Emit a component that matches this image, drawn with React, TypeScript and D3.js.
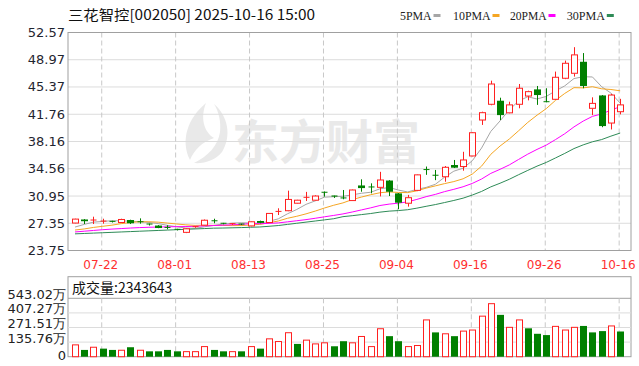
import React from 'react';
import * as d3 from 'd3';

const dates = ['07-17','07-18','07-21','07-22','07-23','07-24','07-25','07-28','07-29','07-30','07-31','08-01','08-04','08-05','08-06','08-07','08-08','08-11','08-12','08-13','08-14','08-15','08-18','08-19','08-20','08-21','08-22','08-25','08-26','08-27','08-28','08-29','09-01','09-02','09-03','09-04','09-05','09-08','09-09','09-10','09-11','09-12','09-15','09-16','09-17','09-18','09-19','09-22','09-23','09-24','09-25','09-26','09-29','09-30','10-09','10-10','10-13','10-14','10-15','10-16'];
const opens = [27.38,27.85,27.72,27.60,27.60,27.45,27.78,27.55,27.25,27.05,26.80,26.55,26.15,26.85,27.10,27.68,27.35,27.22,27.25,27.00,27.65,27.45,28.85,29.01,30.00,30.70,30.40,31.45,30.95,30.70,30.35,32.35,32.15,32.10,33.00,31.30,30.00,31.70,34.45,33.70,33.50,35.05,34.85,36.25,41.00,43.08,43.55,41.95,43.08,44.17,45.05,43.42,43.74,46.52,47.18,48.70,42.55,44.25,40.60,42.10];
const highs = [27.95,27.90,28.22,27.95,27.68,27.95,27.82,28.00,27.30,27.10,27.10,26.62,26.70,26.95,27.85,27.95,27.40,27.35,27.30,27.60,27.70,28.70,29.33,31.66,30.45,31.50,31.05,31.55,31.00,31.75,31.80,33.16,32.63,34.15,33.05,31.35,31.10,33.80,34.85,34.40,34.92,35.72,36.80,39.40,42.10,46.20,43.95,43.42,45.76,44.88,45.50,45.20,47.40,48.85,50.63,49.85,44.00,44.30,44.45,43.80];
const lows = [27.35,27.25,27.25,27.30,27.45,27.40,27.25,27.30,27.05,26.70,26.55,26.40,26.05,26.75,27.05,27.35,27.22,27.15,27.10,26.95,27.35,27.40,28.44,28.95,29.95,30.30,30.35,30.87,30.70,30.52,30.30,31.52,31.31,30.90,30.95,29.20,29.55,31.60,33.75,33.05,32.84,34.65,34.30,36.20,40.35,42.95,41.00,41.89,42.55,43.60,43.00,43.35,43.65,46.40,46.74,45.20,41.65,40.05,39.75,41.75];
const closes = [27.90,27.62,27.78,27.64,27.48,27.85,27.35,27.50,27.12,26.72,26.68,26.45,26.62,26.90,27.75,27.60,27.28,27.30,27.15,27.55,27.40,28.65,28.92,30.50,30.40,30.78,30.95,31.38,30.80,30.65,31.75,32.00,32.05,33.07,31.52,30.07,30.73,33.75,34.38,33.60,34.75,34.70,35.72,39.32,41.97,45.76,41.65,43.00,45.20,44.75,44.30,43.35,46.65,48.50,49.61,45.50,43.20,40.20,44.30,43.00];
// volume in 万
const volumes = [110,63,88,75,63,60,88,60,50,50,63,50,47,47,94,63,50,47,50,94,75,166,141,223,119,154,119,129,97,144,129,188,94,260,191,144,94,104,342,226,213,191,238,248,377,493,389,273,342,264,213,201,282,248,273,286,226,238,286,234.3643];
const prevClose = 27.5;
// moving-average values read off the chart where the 60 shown closes are not enough
const ma5Early = [26.85,27.20,27.50,27.60];
const ma10Early = [26.46,26.60,26.80,26.95,27.10,27.30,27.45,27.55,27.55];
const ma20Early = [26.20,26.30,26.40,26.50,26.58,26.65,26.72,26.78,26.82,26.85,26.88,26.90,26.92,26.95,27.00,27.05,27.10,27.15,27.20];
const ma30Early = [25.95,26.00,26.05,26.10,26.15,26.20,26.25,26.30,26.35,26.40,26.45,26.50,26.55,26.60,26.65,26.70,26.72,26.75,26.78,26.82,26.86,26.95,27.05,27.20,27.35,27.50,27.65,27.80,27.95];

const priceTicks = ['23.75','27.35','30.95','34.56','38.16','41.76','45.37','48.97','52.57'];
const volTicks = [0,135.76,271.51,407.27,543.02];
const volTickLabels = ['0','135.76万','271.51万','407.27万','543.02万'];
const tickDates = ['07-22','08-01','08-13','08-25','09-04','09-16','09-26','10-16'];
const legendNames = ['5PMA','10PMA','20PMA','30PMA'];
const legendColors = ['#a6a6a6','#f5a623','#ff00ff','#2e8b57'];
const title = '三花智控[002050] 2025-10-16 15:00';
const volTitle = '成交量:2343643';

const RED = '#ff2020';
const GREEN = '#008000';

function movingAvg(n: number, early: number[]) {
  return closes.map((_, i) => (i < n - 1 ? early[i] : (d3.mean(closes.slice(i - n + 1, i + 1)) as number)));
}

export default function App() {
  const L = 68, R = 631, T = 32.5, B = 250.5;
  const VT = 276.7, VD = 298.3, VB = 356.7;
  const x = d3.scaleBand<string>().domain(dates).range([70.38, 624.78]);
  const cx = (d: string) => (x(d) as number) + x.bandwidth() / 2;
  const y = d3.scaleLinear().domain([23.75, 52.57]).range([B, T]);
  const yv = d3.scaleLinear().domain([0, 543.02]).range([VB, VD]);
  const half = 3;

  const mas = [movingAvg(5, ma5Early), movingAvg(10, ma10Early), movingAvg(20, ma20Early), movingAvg(30, ma30Early)];
  const line = d3.line<number>().x((_, i) => cx(dates[i])).y((v) => y(v));

  const legendX = [400, 453, 510, 566.7];
  const legendW = [31.7, 37.7, 36.7, 38.3];

  return (
    <svg width={639} height={366} style={{ position: 'absolute', left: 0, top: 0, background: '#fff' }}>
      <rect x={0} y={0} width={639} height={366} fill="#fff" />
      {/* title */}
      <text x={68} y={20} fontFamily="'Noto Sans CJK SC', sans-serif" fontSize={14} fill="#111" textLength={247} lengthAdjust="spacingAndGlyphs">{title}</text>
      {/* legend */}
      {legendNames.map((n, i) => (
        <g key={n}>
          <text x={legendX[i]} y={19.5} fontFamily="'Liberation Serif', serif" fontSize={12} fill="#222" textLength={legendW[i]} lengthAdjust="spacingAndGlyphs">{n}</text>
          <rect x={legendX[i] + legendW[i] + 1.8} y={14} width={7} height={3} fill={legendColors[i]} />
        </g>
      ))}
      {/* watermark */}
      <g opacity={1}>
        <path d="M206 103 C188 118 180 140 190 160 C194 150 202 142 214 138 C204 132 200 118 206 103 Z" fill="#e9e9e9" />
        <path d="M214 104 C228 116 232 136 222 152 C216 160 204 164 194 163 C208 156 218 146 220 132 C221 122 219 112 214 104 Z" fill="#e9e9e9" />
        <text x={232} y={159} fontFamily="'Noto Sans CJK SC', sans-serif" fontWeight={700} fontSize={47} fill="#e9e9e9">东方财富</text>
      </g>
      {/* price grid */}
      {priceTicks.map((t) => (
        <line key={t} x1={L} x2={R} y1={y(+t)} y2={y(+t)} stroke="#dcdcdc" strokeWidth={1} />
      ))}
      {tickDates.map((d) => (
        <line key={d} x1={cx(d) - 1} x2={cx(d) - 1} y1={T} y2={B} stroke="#c8c8c8" strokeDasharray="5,3" />
      ))}
      <rect x={L} y={T} width={R - L} height={B - T} fill="none" stroke="#a0a0a0" />
      {priceTicks.map((t) => (
        <text key={t} x={65} y={y(+t)} dominantBaseline="central" textAnchor="end" fontFamily="'DejaVu Sans', sans-serif" fontSize={13} fill="#1f2530">{t}</text>
      ))}
      {tickDates.map((d) => (
        <text key={d} x={cx(d) - 2} y={268.5} textAnchor="middle" fontFamily="'DejaVu Sans', sans-serif" fontSize={12} fill="#ff3030">{d}</text>
      ))}
      {/* moving averages */}
      {mas.map((m, k) => (
        <path key={k} d={line(m) as string} fill="none" stroke={legendColors[k]} strokeWidth={1} />
      ))}
      {/* candles */}
      {dates.map((d, i) => {
        const c = cx(d);
        const o = opens[i], cl = closes[i];
        const up = cl >= o;
        const col = up ? RED : GREEN;
        const yTop = y(Math.max(o, cl));
        const yBot = y(Math.min(o, cl));
        const h = yBot - yTop;
        const xc = Math.round(c) + 0.5;
        if (h < 1.5) {
          return (
            <g key={d}>
              <line x1={xc} x2={xc} y1={y(highs[i])} y2={y(lows[i])} stroke={col} />
              <line x1={xc - half} x2={xc + half} y1={yTop} y2={yTop} stroke={col} strokeWidth={Math.max(1, h)} />
            </g>
          );
        }
        if (up) {
          return (
            <g key={d}>
              <line x1={xc} x2={xc} y1={y(highs[i])} y2={yTop} stroke={col} />
              <line x1={xc} x2={xc} y1={yBot} y2={y(lows[i])} stroke={col} />
              <rect x={xc - half} y={yTop} width={half * 2} height={h} fill="#fff" stroke={col} />
            </g>
          );
        }
        return (
          <g key={d}>
            <line x1={xc} x2={xc} y1={y(highs[i])} y2={y(lows[i])} stroke={col} />
            <rect x={xc - half - 0.5} y={yTop} width={half * 2 + 1} height={h} fill={col} />
          </g>
        );
      })}
      {/* volume panel */}
      <rect x={L} y={VT} width={R - L} height={VB - VT} fill="none" stroke="#a0a0a0" />
      <line x1={L} x2={R} y1={VD} y2={VD} stroke="#a0a0a0" />
      {volTicks.slice(1, 4).map((v) => (
        <line key={v} x1={L} x2={R} y1={yv(v)} y2={yv(v)} stroke="#dcdcdc" />
      ))}
      {tickDates.map((d) => (
        <line key={d} x1={cx(d) - 1} x2={cx(d) - 1} y1={VD} y2={VB} stroke="#c8c8c8" strokeDasharray="5,3" />
      ))}
      <text x={72} y={292.5} fontFamily="'Noto Sans CJK SC', sans-serif" fontSize={14} fill="#111">{volTitle}</text>
      {volTicks.map((v, i) => (
        <text key={v} x={66} y={yv(v) + (v === 0 ? 3 : 0.5)} textAnchor="end" fontFamily="'DejaVu Sans', sans-serif" fontSize={13} fill="#222">{volTickLabels[i]}</text>
      ))}
      {dates.map((d, i) => {
        const pc = i === 0 ? prevClose : closes[i - 1];
        const up = closes[i] >= pc;
        const xc = Math.round(cx(d)) + 0.5;
        const top = yv(volumes[i]);
        return up ? (
          <rect key={d} x={xc - half} y={top} width={half * 2} height={VB - top} fill="#fff" stroke={RED} />
        ) : (
          <rect key={d} x={xc - half - 0.5} y={top} width={half * 2 + 1} height={VB - top} fill={GREEN} />
        );
      })}
    </svg>
  );
}
